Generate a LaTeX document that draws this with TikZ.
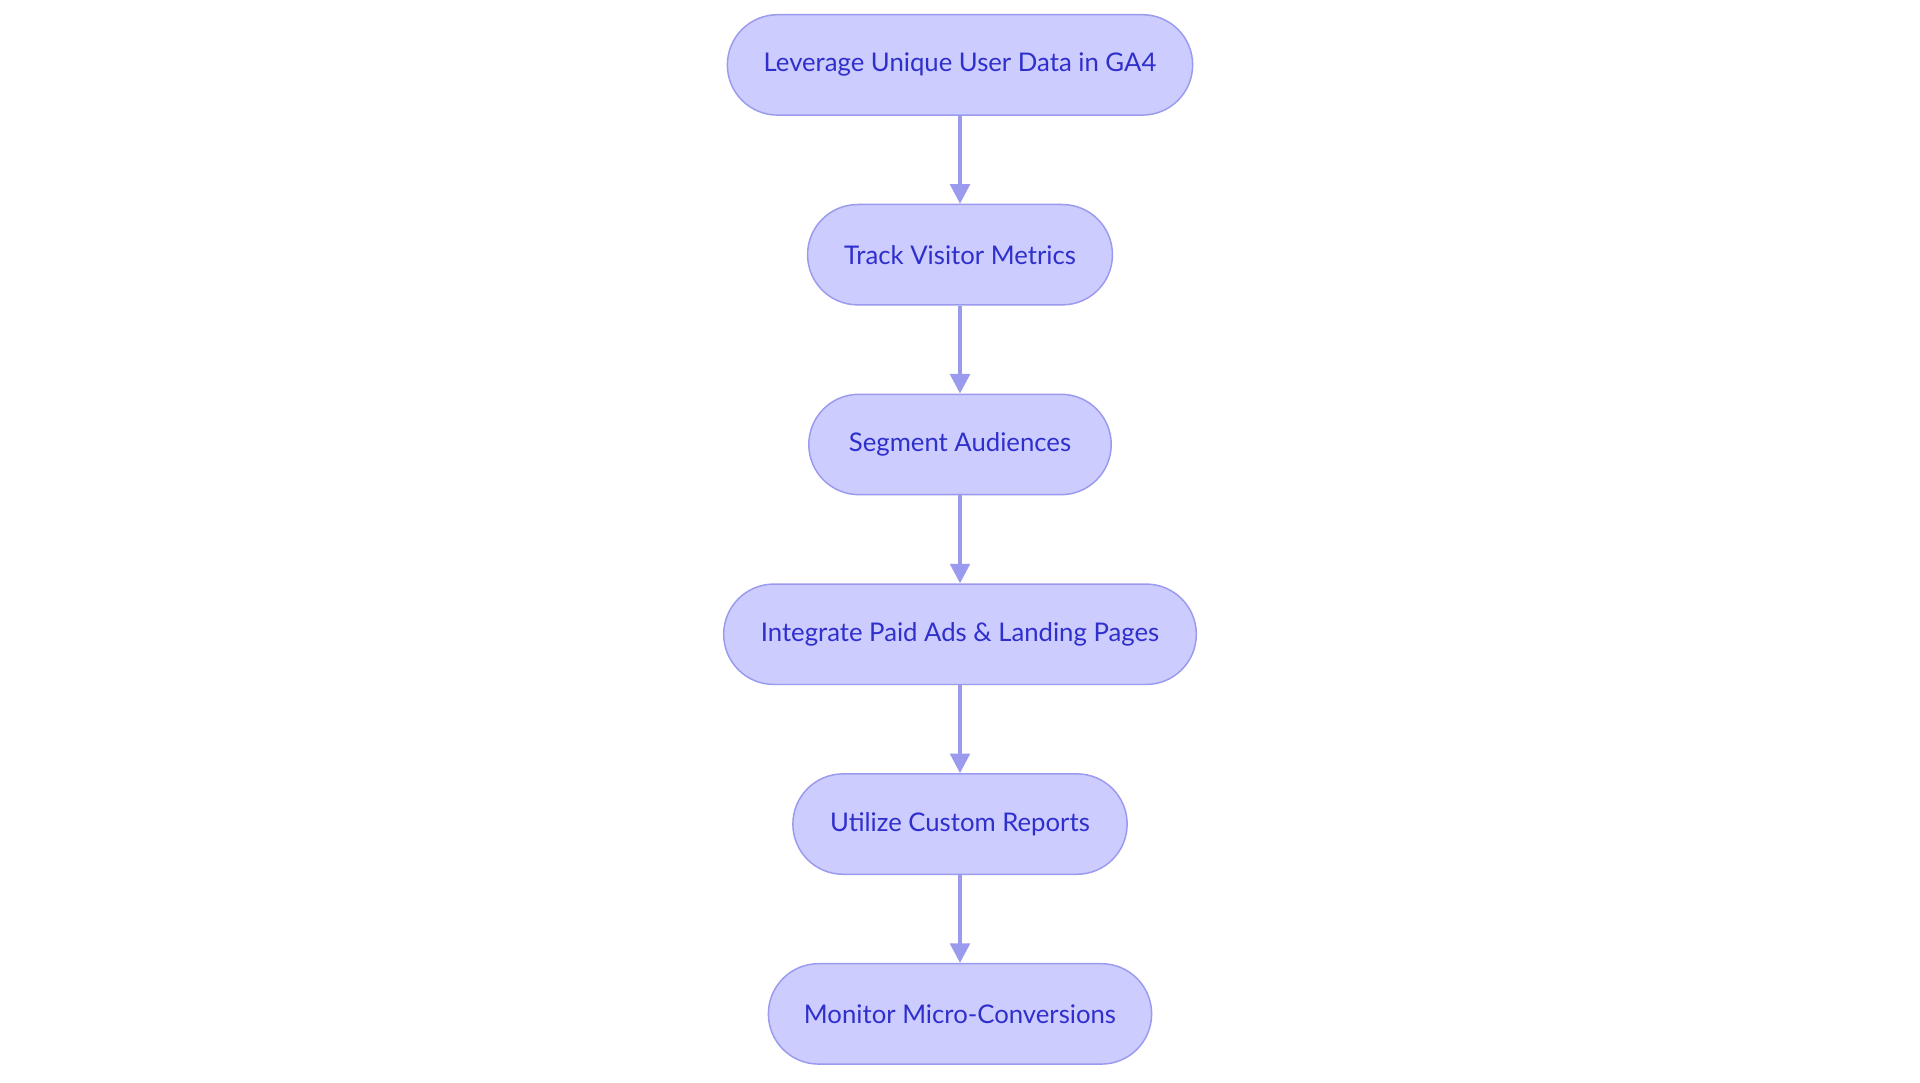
\documentclass[tikz,border=0pt]{standalone}
\usepackage{fontspec}
\setmainfont{Lato}
\usetikzlibrary{arrows.meta}
\definecolor{nfill}{HTML}{CCCCFF}
\definecolor{nline}{HTML}{9A9AEE}
\definecolor{ntext}{HTML}{2F2FCC}
\begin{document}
\begin{tikzpicture}[x=0.5pt,y=0.5pt,
  box/.style={draw=nline,fill=nfill,line width=0.6pt,rounded corners=20.5pt,minimum height=41pt,text=ntext,font=\fontsize{10.5pt}{12pt}\selectfont,inner sep=0pt},
  arr/.style={draw=nline,line width=1.5pt,-{Triangle[length=8pt,width=8pt]}}]
\useasboundingbox (0,0) rectangle (1568,884);
\node[box,minimum width=190pt] (a) at (784,831) {Leverage Unique User Data in GA4};
\node[box,minimum width=124.5pt] (b) at (784,676) {Track Visitor Metrics};
\node[box,minimum width=123.5pt] (c) at (784,521) {Segment Audiences};
\node[box,minimum width=193pt] (d) at (784,366) {Integrate Paid Ads \& Landing Pages};
\node[box,minimum width=136.5pt] (e) at (784,211) {Utilize Custom Reports};
\node[box,minimum width=156.5pt] (f) at (784,56) {Monitor Micro-Conversions};
\draw[arr] (a) -- (b);
\draw[arr] (b) -- (c);
\draw[arr] (c) -- (d);
\draw[arr] (d) -- (e);
\draw[arr] (e) -- (f);
\end{tikzpicture}
\end{document}
